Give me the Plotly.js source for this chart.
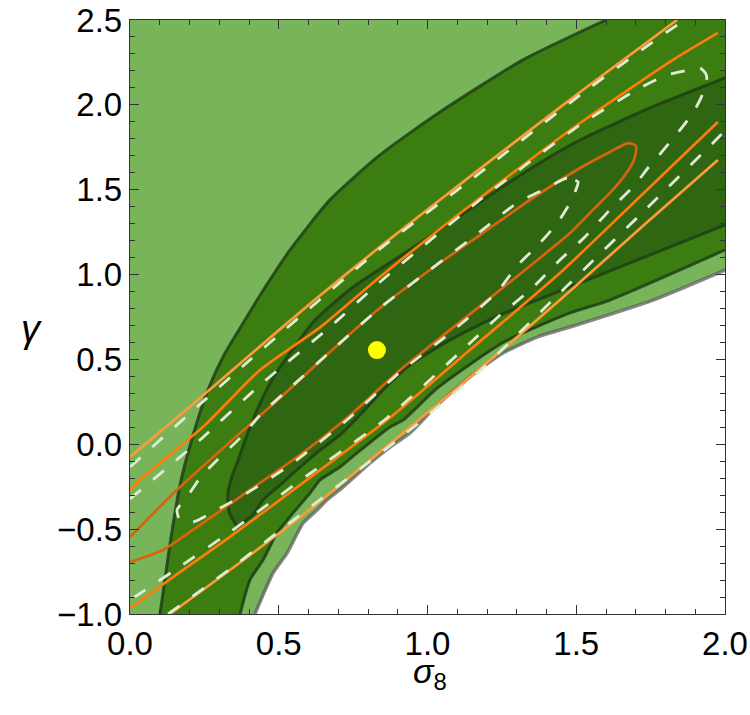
<!DOCTYPE html>
<html>
<head>
<meta charset="utf-8">
<script src="https://cdn.plot.ly/plotly-3.0.1.min.js"></script>
<style>
  html, body { margin: 0; padding: 0; background: #ffffff; }
  #chart { width: 750px; height: 715px; }
</style>
</head>
<body>
<div id="chart"></div>
<script>
// ---------- Data (sigma_8, gamma) ----------

// Outermost (light green) region: everything above/left of the white area
const lightX = [0.000, 0.420, 0.481, 0.528, 0.582, 0.629, 0.662, 0.716, 0.807, 0.874, 0.941, 1.032, 1.143, 1.254, 1.368, 1.479, 1.758, 2.000, 2.000, 0.000];
const lightY = [-1.000, -1.000, -0.758, -0.641, -0.464, -0.387, -0.328, -0.252, -0.110, -0.016, 0.067, 0.230, 0.397, 0.538, 0.632, 0.691, 0.850, 1.027, 2.500, 2.500];
// its lower-right edge (the border with the white area)
const whiteEdgeX = [0.420, 0.481, 0.528, 0.582, 0.629, 0.662, 0.716, 0.807, 0.874, 0.941, 1.032, 1.143, 1.254, 1.368, 1.479, 1.758, 2.000];
const whiteEdgeY = [-1.000, -0.758, -0.641, -0.464, -0.387, -0.328, -0.252, -0.110, -0.016, 0.067, 0.230, 0.397, 0.538, 0.632, 0.691, 0.850, 1.027];

// Middle (medium green) region: upper-left edge (bottom -> top)
const midUpperX = [0.101, 0.134, 0.168, 0.212, 0.262, 0.316, 0.370, 0.444, 0.538, 0.672, 0.840, 1.042, 1.321, 1.600];
const midUpperY = [-1.000, -0.593, -0.240, 0.055, 0.320, 0.526, 0.685, 0.897, 1.145, 1.440, 1.705, 1.958, 2.265, 2.500];
// upper-right corner of the region
const midCornerX = [2.000];
const midCornerY = [2.500];
// lower-right edge (left -> right)
const midLowerX = [0.370, 0.403, 0.447, 0.494, 0.548, 0.605, 0.639, 0.706, 0.763, 0.817, 0.874, 0.918, 1.032, 1.254, 1.479, 1.613, 2.000];
const midLowerY = [-1.000, -0.800, -0.682, -0.523, -0.405, -0.287, -0.210, -0.134, -0.051, 0.025, 0.102, 0.143, 0.330, 0.600, 0.774, 0.850, 1.145];

// Inner (dark green) region: upper edge (tip -> right border)
const innerUpperX = [0.360, 0.333, 0.329, 0.339, 0.360, 0.387, 0.427, 0.477, 0.538, 0.622, 0.750, 0.965, 1.187, 1.355, 1.513, 1.748, 2.000];
const innerUpperY = [-0.487, -0.399, -0.299, -0.210, -0.110, 0.025, 0.202, 0.379, 0.538, 0.732, 0.927, 1.174, 1.440, 1.634, 1.793, 1.982, 2.159];
// lower edge (tip -> right border)
const innerLowerX = [0.360, 0.413, 0.447, 0.504, 0.561, 0.639, 0.706, 0.773, 0.857, 0.941, 1.076, 1.244, 1.412, 1.580, 1.748, 2.000];
const innerLowerY = [-0.487, -0.417, -0.328, -0.240, -0.151, -0.034, 0.055, 0.173, 0.332, 0.467, 0.615, 0.762, 0.880, 0.998, 1.116, 1.292];

// Orange solid contours
const lightOrangeUpperX = [0.000, 0.200, 0.403, 0.620, 0.840, 1.176, 1.513, 1.839];
const lightOrangeUpperY = [-0.075, 0.220, 0.526, 0.850, 1.163, 1.623, 2.076, 2.500];
const lightOrangeLowerX = [0.134, 0.336, 0.600, 0.941, 1.200, 1.445, 1.720, 1.976];
const lightOrangeLowerY = [-1.000, -0.741, -0.390, 0.100, 0.480, 0.850, 1.280, 1.675];

const orangeUpperX = [0.000, 0.034, 0.250, 0.437, 0.640, 0.840, 1.176, 1.513, 1.825, 1.976];
const orangeUpperY = [-0.269, -0.210, 0.110, 0.438, 0.690, 0.986, 1.451, 1.893, 2.265, 2.424];
const orangeLowerX = [0.000, 0.150, 0.336, 0.600, 0.864, 1.150, 1.445, 1.720, 1.976];
const orangeLowerY = [-0.965, -0.776, -0.546, -0.202, 0.143, 0.567, 1.009, 1.469, 1.899];

const darkOrangeX = [0.000, 0.168, 0.336, 0.504, 0.672, 0.840, 1.008, 1.176, 1.345, 1.513, 1.613, 1.674, 1.701,
                     1.694, 1.664, 1.613, 1.556, 1.479, 1.378, 1.244, 1.076, 0.908, 0.729, 0.571, 0.403, 0.235, 0.111, 0.000];
const darkOrangeY = [-0.546, -0.252, 0.014, 0.273, 0.544, 0.803, 1.027, 1.233, 1.440, 1.628, 1.722, 1.775, 1.758,
                     1.675, 1.587, 1.481, 1.381, 1.245, 1.098, 0.909, 0.674, 0.438, 0.155, -0.063, -0.269, -0.476, -0.623, -0.694];

// Pale dashed contours
const dashInnerX = [1.506, 1.469, 1.402, 1.301, 1.176, 1.008, 0.840, 0.672, 0.538, 0.444, 0.370, 0.286, 0.235, 0.192, 0.158, 0.168, 0.212,
                    0.279, 0.393, 0.538, 0.729, 0.908, 1.076, 1.234, 1.301, 1.378, 1.439, 1.479, 1.496, 1.506];
const dashInnerY = [1.546, 1.569, 1.510, 1.422, 1.251, 1.027, 0.803, 0.544, 0.332, 0.184, 0.037, -0.104, -0.199, -0.311, -0.387, -0.446, -0.458,
                    -0.399, -0.287, -0.122, 0.143, 0.426, 0.656, 0.897, 1.051, 1.186, 1.310, 1.422, 1.487, 1.546];
const dashMidX = [0.000, 0.235, 0.437, 0.672, 0.840, 1.176, 1.513, 1.714, 1.805, 1.866, 1.916, 1.936, 1.939, 1.916, 1.892, 1.849, 1.815,
                  1.771, 1.741, 1.697, 1.613, 1.529, 1.445, 1.345, 1.244, 1.143, 0.864, 0.598, 0.336, 0.151, 0.000];
const dashMidY = [-0.322, 0.025, 0.349, 0.691, 0.956, 1.440, 1.882, 2.100, 2.176, 2.200, 2.217, 2.182, 2.135, 2.029, 1.952, 1.852, 1.781,
                  1.687, 1.628, 1.528, 1.381, 1.222, 1.086, 0.909, 0.762, 0.597, 0.155, -0.181, -0.517, -0.741, -0.918];
const dashOuterUpperX = [0.000, 0.202, 0.403, 0.840, 1.176, 1.513, 1.805, 1.866];
const dashOuterUpperY = [-0.134, 0.184, 0.497, 1.151, 1.599, 2.058, 2.430, 2.500];
const dashOuterLowerX = [0.128, 0.336, 0.598, 0.941, 1.176, 1.445, 1.714, 1.976, 2.000];
const dashOuterLowerY = [-1.000, -0.735, -0.381, 0.084, 0.432, 0.892, 1.351, 1.805, 1.850];

// Best-fit point
const bestX = [0.83];
const bestY = [0.555];

// Axis titles
const xTitle = '<i>σ</i><sub>8</sub>';
const yTitle = '<i>γ</i>';

// ---------- Styles ----------
const C_LIGHT = '#78b45a';
const C_MID = '#3b7d10';
const C_INNER = '#2f6612';
const C_EDGE = 'rgba(30,62,22,0.85)';
const C_SHADOW = 'rgba(95,95,95,0.75)';
const C_LORANGE = '#ff9a3a';
const C_ORANGE = '#ff7b0a';
const C_DORANGE = '#d8640e';
const C_DASH = 'rgb(222,236,212)';

function rev(a) { return a.slice().reverse(); }

const traces = [];
function fillTrace(x, y, color) {
  traces.push({ x: x, y: y, type: 'scatter', mode: 'lines', fill: 'toself', fillcolor: color,
                line: { width: 0, color: color }, hoverinfo: 'skip', showlegend: false });
}
function lineTrace(x, y, color, width, dash) {
  traces.push({ x: x, y: y, type: 'scatter', mode: 'lines',
                line: { color: color, width: width, dash: dash || 'solid', shape: 'spline', smoothing: 0.6 },
                hoverinfo: 'skip', showlegend: false });
}

// regions
fillTrace(lightX, lightY, C_LIGHT);
fillTrace(midUpperX.concat(midCornerX, rev(midLowerX)), midUpperY.concat(midCornerY, rev(midLowerY)), C_MID);
fillTrace(innerUpperX.concat(rev(innerLowerX)), innerUpperY.concat(rev(innerLowerY)), C_INNER);

// region outlines
lineTrace(whiteEdgeX, whiteEdgeY, C_SHADOW, 3.5);
lineTrace(midUpperX, midUpperY, C_EDGE, 3);
lineTrace(midLowerX, midLowerY, C_EDGE, 3);
lineTrace(innerUpperX, innerUpperY, C_EDGE, 3);
lineTrace(innerLowerX, innerLowerY, C_EDGE, 3);

// orange contours
lineTrace(lightOrangeUpperX, lightOrangeUpperY, C_LORANGE, 2.7);
lineTrace(lightOrangeLowerX, lightOrangeLowerY, C_LORANGE, 2.7);
lineTrace(orangeUpperX, orangeUpperY, C_ORANGE, 2.7);
lineTrace(orangeLowerX, orangeLowerY, C_ORANGE, 2.7);
lineTrace(darkOrangeX, darkOrangeY, C_DORANGE, 2.7);

// dashed contours
const DASH = '14px,16px';
lineTrace(dashInnerX, dashInnerY, C_DASH, 2.8, DASH);
lineTrace(dashMidX, dashMidY, C_DASH, 2.8, DASH);
lineTrace(dashOuterUpperX, dashOuterUpperY, C_DASH, 2.8, DASH);
lineTrace(dashOuterLowerX, dashOuterLowerY, C_DASH, 2.8, DASH);

// best-fit point
traces.push({ x: bestX, y: bestY, type: 'scatter', mode: 'markers',
              marker: { color: '#ffff00', size: 18, line: { width: 0 } }, hoverinfo: 'skip', showlegend: false });

const FONT = 'Liberation Sans, Arial, Helvetica, sans-serif';
const axisCommon = {
  showline: true, linecolor: '#333333', linewidth: 1.2, mirror: 'allticks',
  ticks: 'inside', ticklen: 9, tickwidth: 1.2, tickcolor: '#333333',
  tickformat: '.1f', zeroline: false,
  showgrid: true, gridcolor: 'rgba(255,255,255,0.17)', gridwidth: 1,
  layer: 'above traces',
  tickfont: { family: FONT, size: 33, color: '#000000' },
  minor: { ticks: 'inside', dtick: 0.1, ticklen: 5, tickwidth: 1, tickcolor: '#333333',
           showgrid: true, gridcolor: 'rgba(255,255,255,0.17)', gridwidth: 1 }
};

const layout = {
  width: 750, height: 715,
  margin: { l: 130, r: 25, t: 20, b: 101 },
  paper_bgcolor: '#ffffff', plot_bgcolor: '#ffffff',
  showlegend: false,
  xaxis: Object.assign({}, axisCommon, { range: [0, 2], tick0: 0, dtick: 0.5 }),
  yaxis: Object.assign({}, axisCommon, { range: [-1, 2.5], tick0: -1, dtick: 0.5 }),
  annotations: [
    { text: xTitle, xref: 'paper', yref: 'paper', x: 0.505, y: -0.1, xanchor: 'center', yanchor: 'middle',
      showarrow: false, font: { family: FONT, size: 34, color: '#000000' } },
    { text: yTitle, xref: 'paper', yref: 'paper', x: -0.165, y: 0.48, xanchor: 'center', yanchor: 'middle',
      showarrow: false, font: { family: FONT, size: 38, color: '#000000' } }
  ]
};

Plotly.newPlot('chart', traces, layout, { displayModeBar: false, staticPlot: true });
</script>
</body>
</html>
